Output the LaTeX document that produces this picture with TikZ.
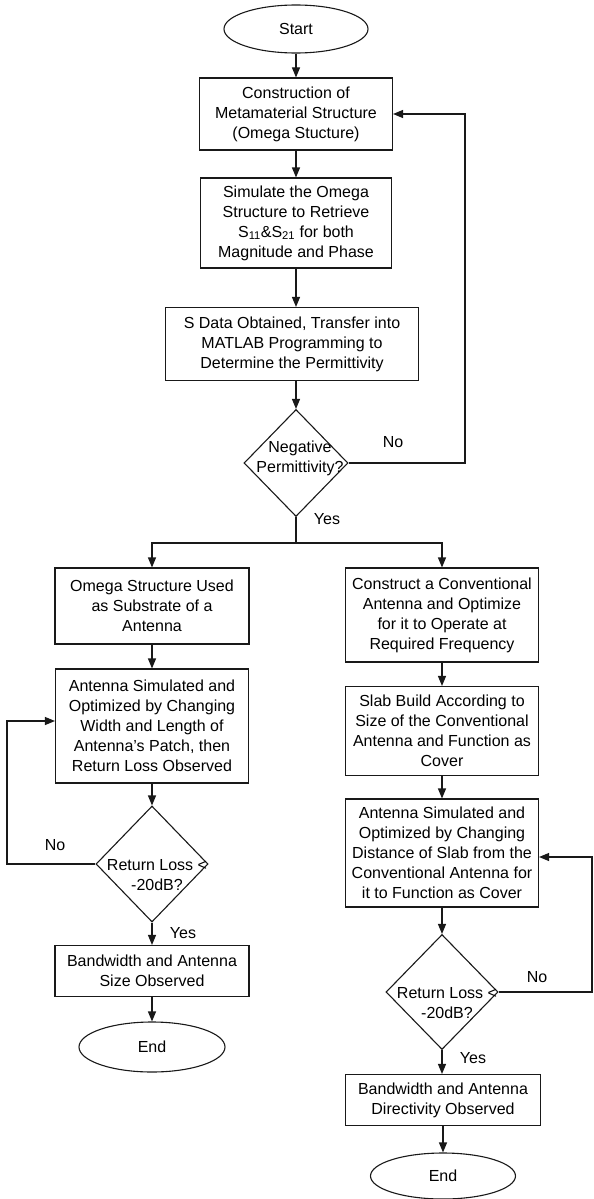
\documentclass[tikz,border=0pt]{standalone}
\usepackage{fontspec}
\setmainfont{Liberation Sans}
\usetikzlibrary{shapes.geometric,arrows.meta}
\tikzset{
  base/.style={draw=black!90, line width=1.1pt, inner sep=0pt, align=center,
    font=\fontsize{16}{20}\selectfont},
  procbox/.style={base, rectangle},
  term/.style={base, ellipse},
  decision/.style={base, diamond},
  dtext/.style={inner sep=0pt, align=center, font=\fontsize{16}{20}\selectfont},
  lbl/.style={inner sep=0pt, font=\fontsize{16}{20}\selectfont},
  arr/.style={draw=black!90, line width=1.1pt, -{Triangle[length=10pt,width=8pt]}},
  ln/.style={draw=black!90, line width=1.1pt}
}
\begin{document}
\begin{tikzpicture}[x=1pt,y=-1pt]
\useasboundingbox (0,0) rectangle (594,1199);
\fill[white] (0,0) rectangle (594,1199);

% main column
\node[term, minimum width=144pt, minimum height=48pt] (start) at (296,29) {Start};
\node[procbox, minimum width=193pt, minimum height=72pt] (b1) at (296,114)
  {Construction of\\Metamaterial Structure\\(Omega Stucture)};
\node[procbox, minimum width=191pt, minimum height=90pt] (b2) at (296,223)
  {Simulate the Omega\\Structure to Retrieve\\S\textsubscript{11}\&S\textsubscript{21} for both\\Magnitude and Phase};
\node[procbox, minimum width=253pt, minimum height=73pt] (b3) at (292,344)
  {S Data Obtained, Transfer into\\MATLAB Programming to\\Determine the Permittivity};
\node[decision, minimum width=104pt, minimum height=107pt] (d1) at (296,463) {};
\node[dtext] (d1t) at (300,458) {Negative\\Permittivity?};

% left column
\node[procbox, minimum width=194pt, minimum height=76pt] (L1) at (152,606)
  {Omega Structure Used\\as Substrate of a\\Antenna};
\node[procbox, minimum width=193pt, minimum height=114pt] (L2) at (152,726)
  {Antenna Simulated and\\Optimized by Changing\\Width and Length of\\Antenna's Patch, then\\Return Loss Observed};
\node[decision, minimum width=112pt, minimum height=116pt] (dL) at (152,864) {};
\node[dtext] (dLt) at (157,875) {Return Loss <\\-20dB?};
\node[procbox, minimum width=194pt, minimum height=51pt] (L3) at (152,971)
  {Bandwidth and Antenna\\Size Observed};
\node[term, minimum width=146pt, minimum height=50pt] (endL) at (152,1047) {End};

% right column
\node[procbox, minimum width=193pt, minimum height=94pt] (R1) at (442,615)
  {Construct a Conventional\\Antenna and Optimize\\for it to Operate at\\Required Frequency};
\node[procbox, minimum width=193pt, minimum height=89pt] (R2) at (442,731)
  {Slab Build According to\\Size of the Conventional\\Antenna and Function as\\Cover};
\node[procbox, minimum width=193pt, minimum height=108pt] (R3) at (442,853)
  {Antenna Simulated and\\Optimized by Changing\\Distance of Slab from the\\Conventional Antenna for\\it to Function as Cover};
\node[decision, minimum width=112pt, minimum height=115pt] (dR) at (442,992) {};
\node[dtext] (dRt) at (447,1003) {Return Loss <\\-20dB?};
\node[procbox, minimum width=195pt, minimum height=51pt] (R4) at (443,1100)
  {Bandwidth and Antenna\\Directivity Observed};
\node[term, minimum width=145pt, minimum height=46pt] (endR) at (443,1176) {End};

% helper coordinates
\coordinate (split) at (296,543);
\coordinate (fb1) at (465,463);
\coordinate (fbL) at (7,864);
\coordinate (fbR) at (592,992);

% main flow
\draw[arr] (start) -- (b1);
\draw[arr] (b1) -- (b2);
\draw[arr] (b2.south) -- (b2.south |- b3.north);
\draw[arr] (d1.north |- b3.south) -- (d1.north);
\draw[ln] (d1.south) -- (split);
\draw[arr] (split) -| (L1.north);
\draw[arr] (split) -| (R1.north);
\draw[arr] (d1.east) -- (fb1) |- (b1.east);

% left flow
\draw[arr] (L1) -- (L2);
\draw[arr] (L2) -- (dL);
\draw[arr] (dL) -- (L3);
\draw[arr] (L3) -- (endL);
\draw[arr] (dL.west) -- (fbL) |- ([yshift=5pt]L2.west);

% right flow
\draw[arr] (R1) -- (R2);
\draw[arr] (R2) -- (R3);
\draw[arr] (R3.south -| dR.north) -- (dR.north);
\draw[arr] (dR.south) -- (dR.south |- R4.north);
\draw[arr] (R4.south -| endR.north) -- (endR.north);
\draw[arr] (dR.east) -- (fbR) |- ([yshift=-4pt]R3.east);

% labels
\node[lbl] (no1) at (393,442) {No};
\node[lbl] (yes1) at (327,519) {Yes};
\node[lbl] (no2) at (55,845) {No};
\node[lbl] (yes2) at (183,933) {Yes};
\node[lbl] (no3) at (537,977) {No};
\node[lbl] (yes3) at (473,1058) {Yes};
\end{tikzpicture}
\end{document}
